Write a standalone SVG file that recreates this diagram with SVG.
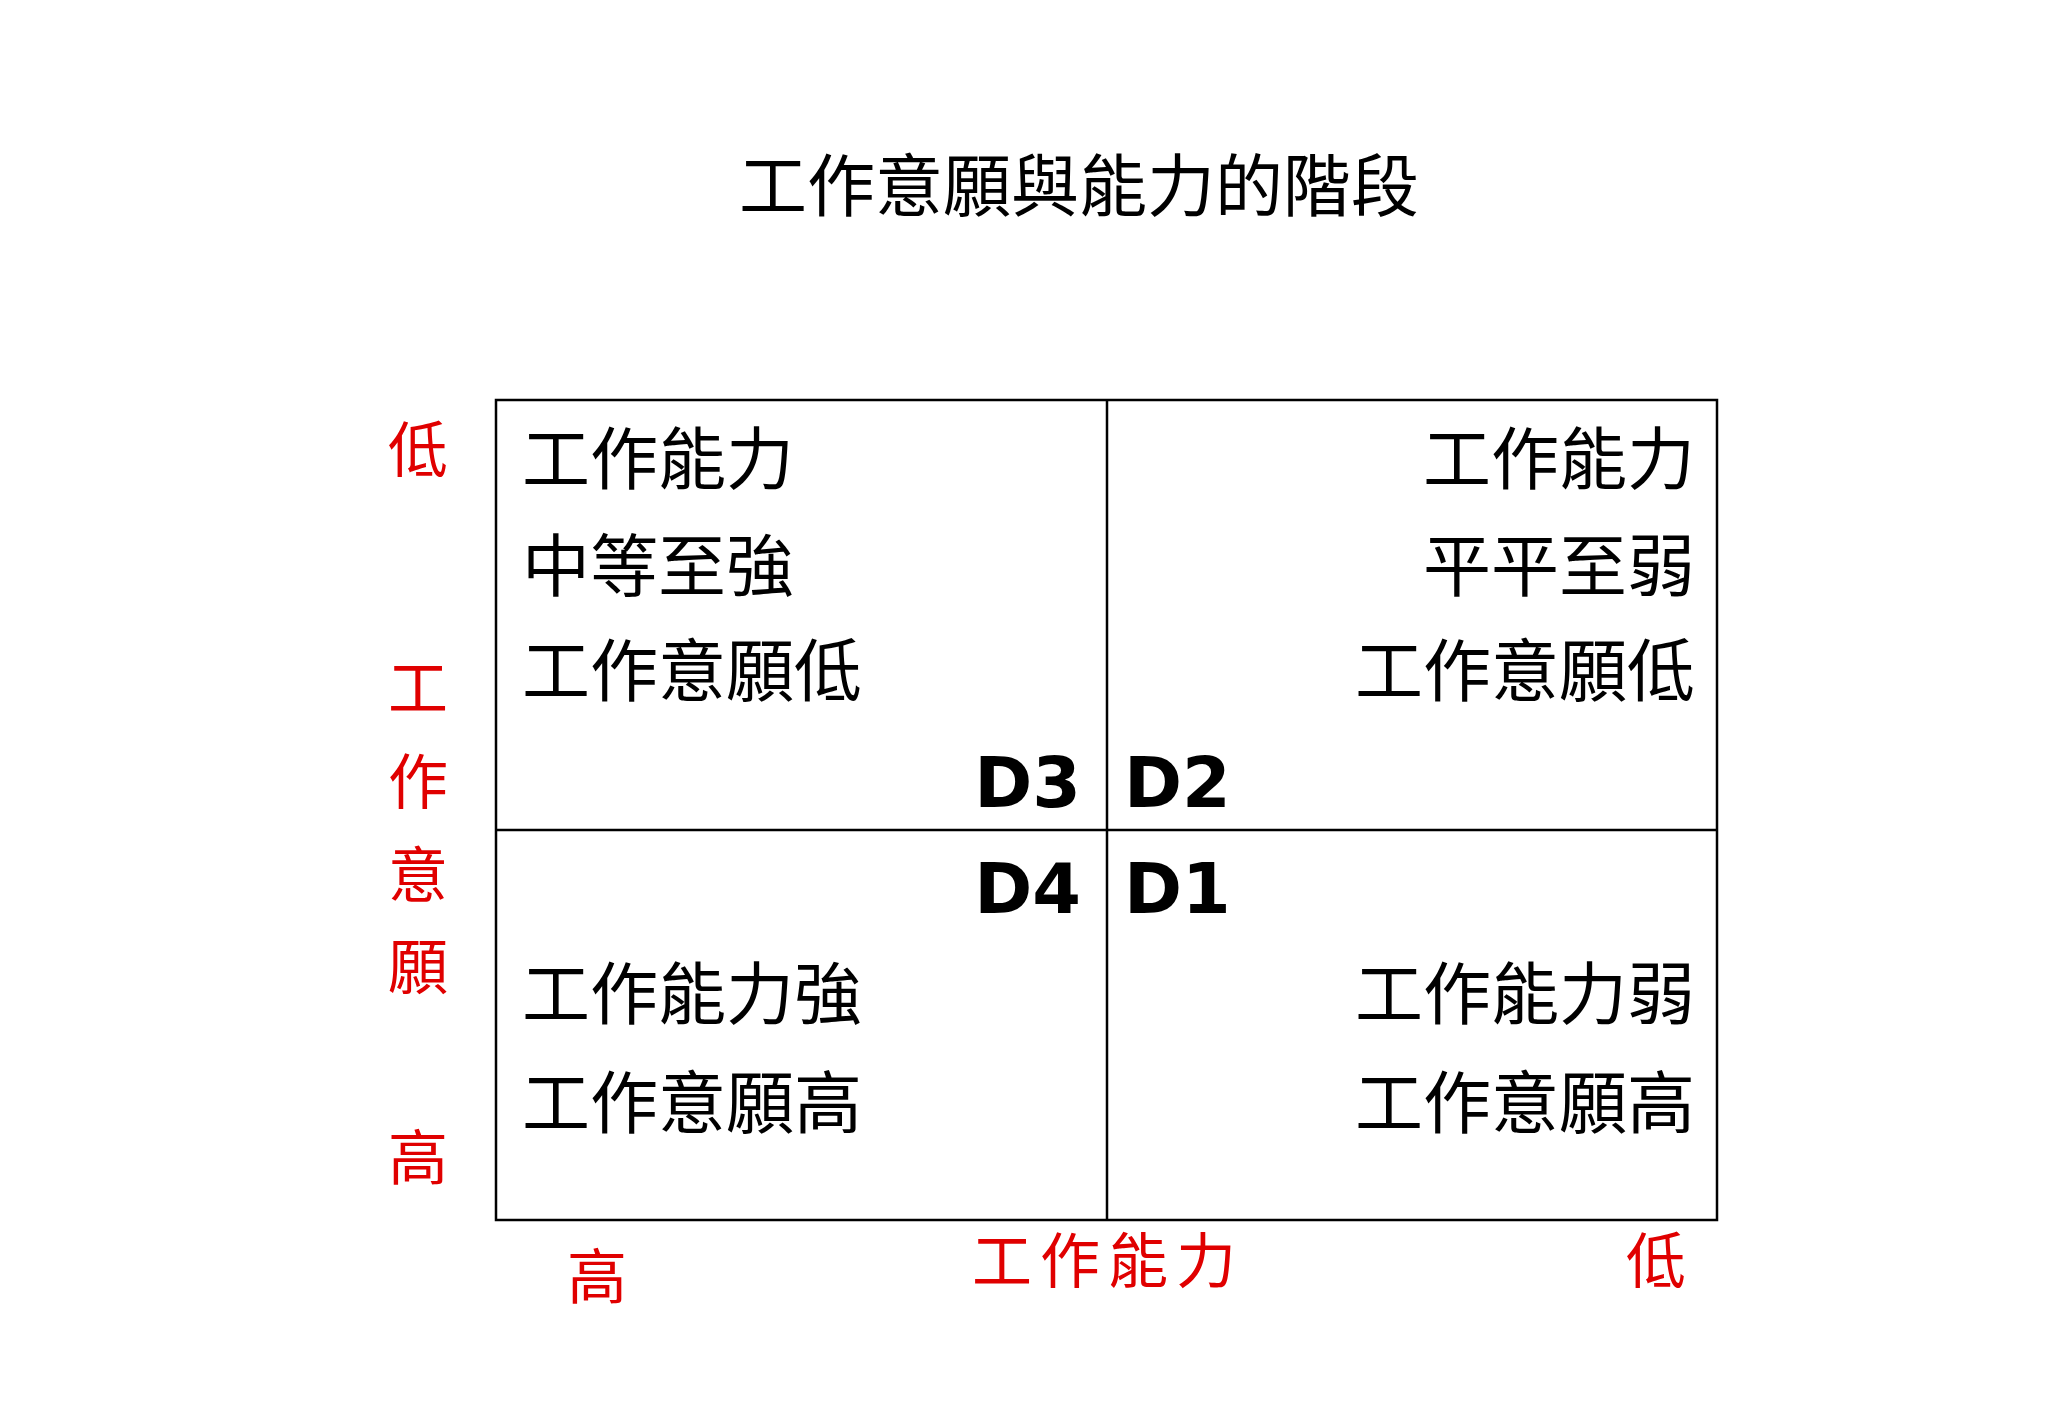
<svg xmlns="http://www.w3.org/2000/svg" width="2048" height="1418" viewBox="0 0 2048 1418">
<style>
text{font-family:"Liberation Sans","Noto Sans CJK TC",sans-serif}
.c{font-size:68px;fill:#000}
.d{font-size:70px;font-weight:bold;fill:#000;font-family:"DejaVu Sans",sans-serif}
.r{font-size:60px;fill:#e00000}
.ln{stroke:#000;stroke-width:2.5;fill:none}
</style>
<rect width="2048" height="1418" fill="#fff"/>
<text x="1079" y="211" font-size="68" text-anchor="middle">工作意願與能力的階段</text>
<g id="connectors">
<rect class="ln" x="496" y="400" width="1221" height="820"/>
<line class="ln" x1="1107" y1="400" x2="1107" y2="1220"/>
<line class="ln" x1="496" y1="830" x2="1717" y2="830"/>
</g>
<g id="d3"><text class="c" x="522" y="484">工作能力</text><text class="c" x="522" y="591">中等至強</text><text class="c" x="522" y="696">工作意願低</text><text class="d" x="1081" y="807" text-anchor="end">D3</text></g>
<g id="d2"><text class="c" x="1695" y="484" text-anchor="end">工作能力</text><text class="c" x="1695" y="591" text-anchor="end">平平至弱</text><text class="c" x="1695" y="696" text-anchor="end">工作意願低</text><text class="d" x="1124" y="807">D2</text></g>
<g id="d4"><text class="d" x="1081" y="913" text-anchor="end">D4</text><text class="c" x="522" y="1019">工作能力強</text><text class="c" x="522" y="1128">工作意願高</text></g>
<g id="d1"><text class="d" x="1124" y="913">D1</text><text class="c" x="1695" y="1019" text-anchor="end">工作能力弱</text><text class="c" x="1695" y="1128" text-anchor="end">工作意願高</text></g>
<g id="yaxis" text-anchor="middle"><text class="r" x="418" y="472">低</text><text class="r" x="418" y="710">工</text><text class="r" x="418" y="804">作</text><text class="r" x="418" y="897">意</text><text class="r" x="418" y="989">願</text><text class="r" x="418" y="1180">高</text></g>
<g id="xaxis" text-anchor="middle"><text class="r" x="597" y="1299">高</text><text class="r" x="1108" y="1283" letter-spacing="8">工作能力</text><text class="r" x="1656" y="1283">低</text></g>
</svg>
